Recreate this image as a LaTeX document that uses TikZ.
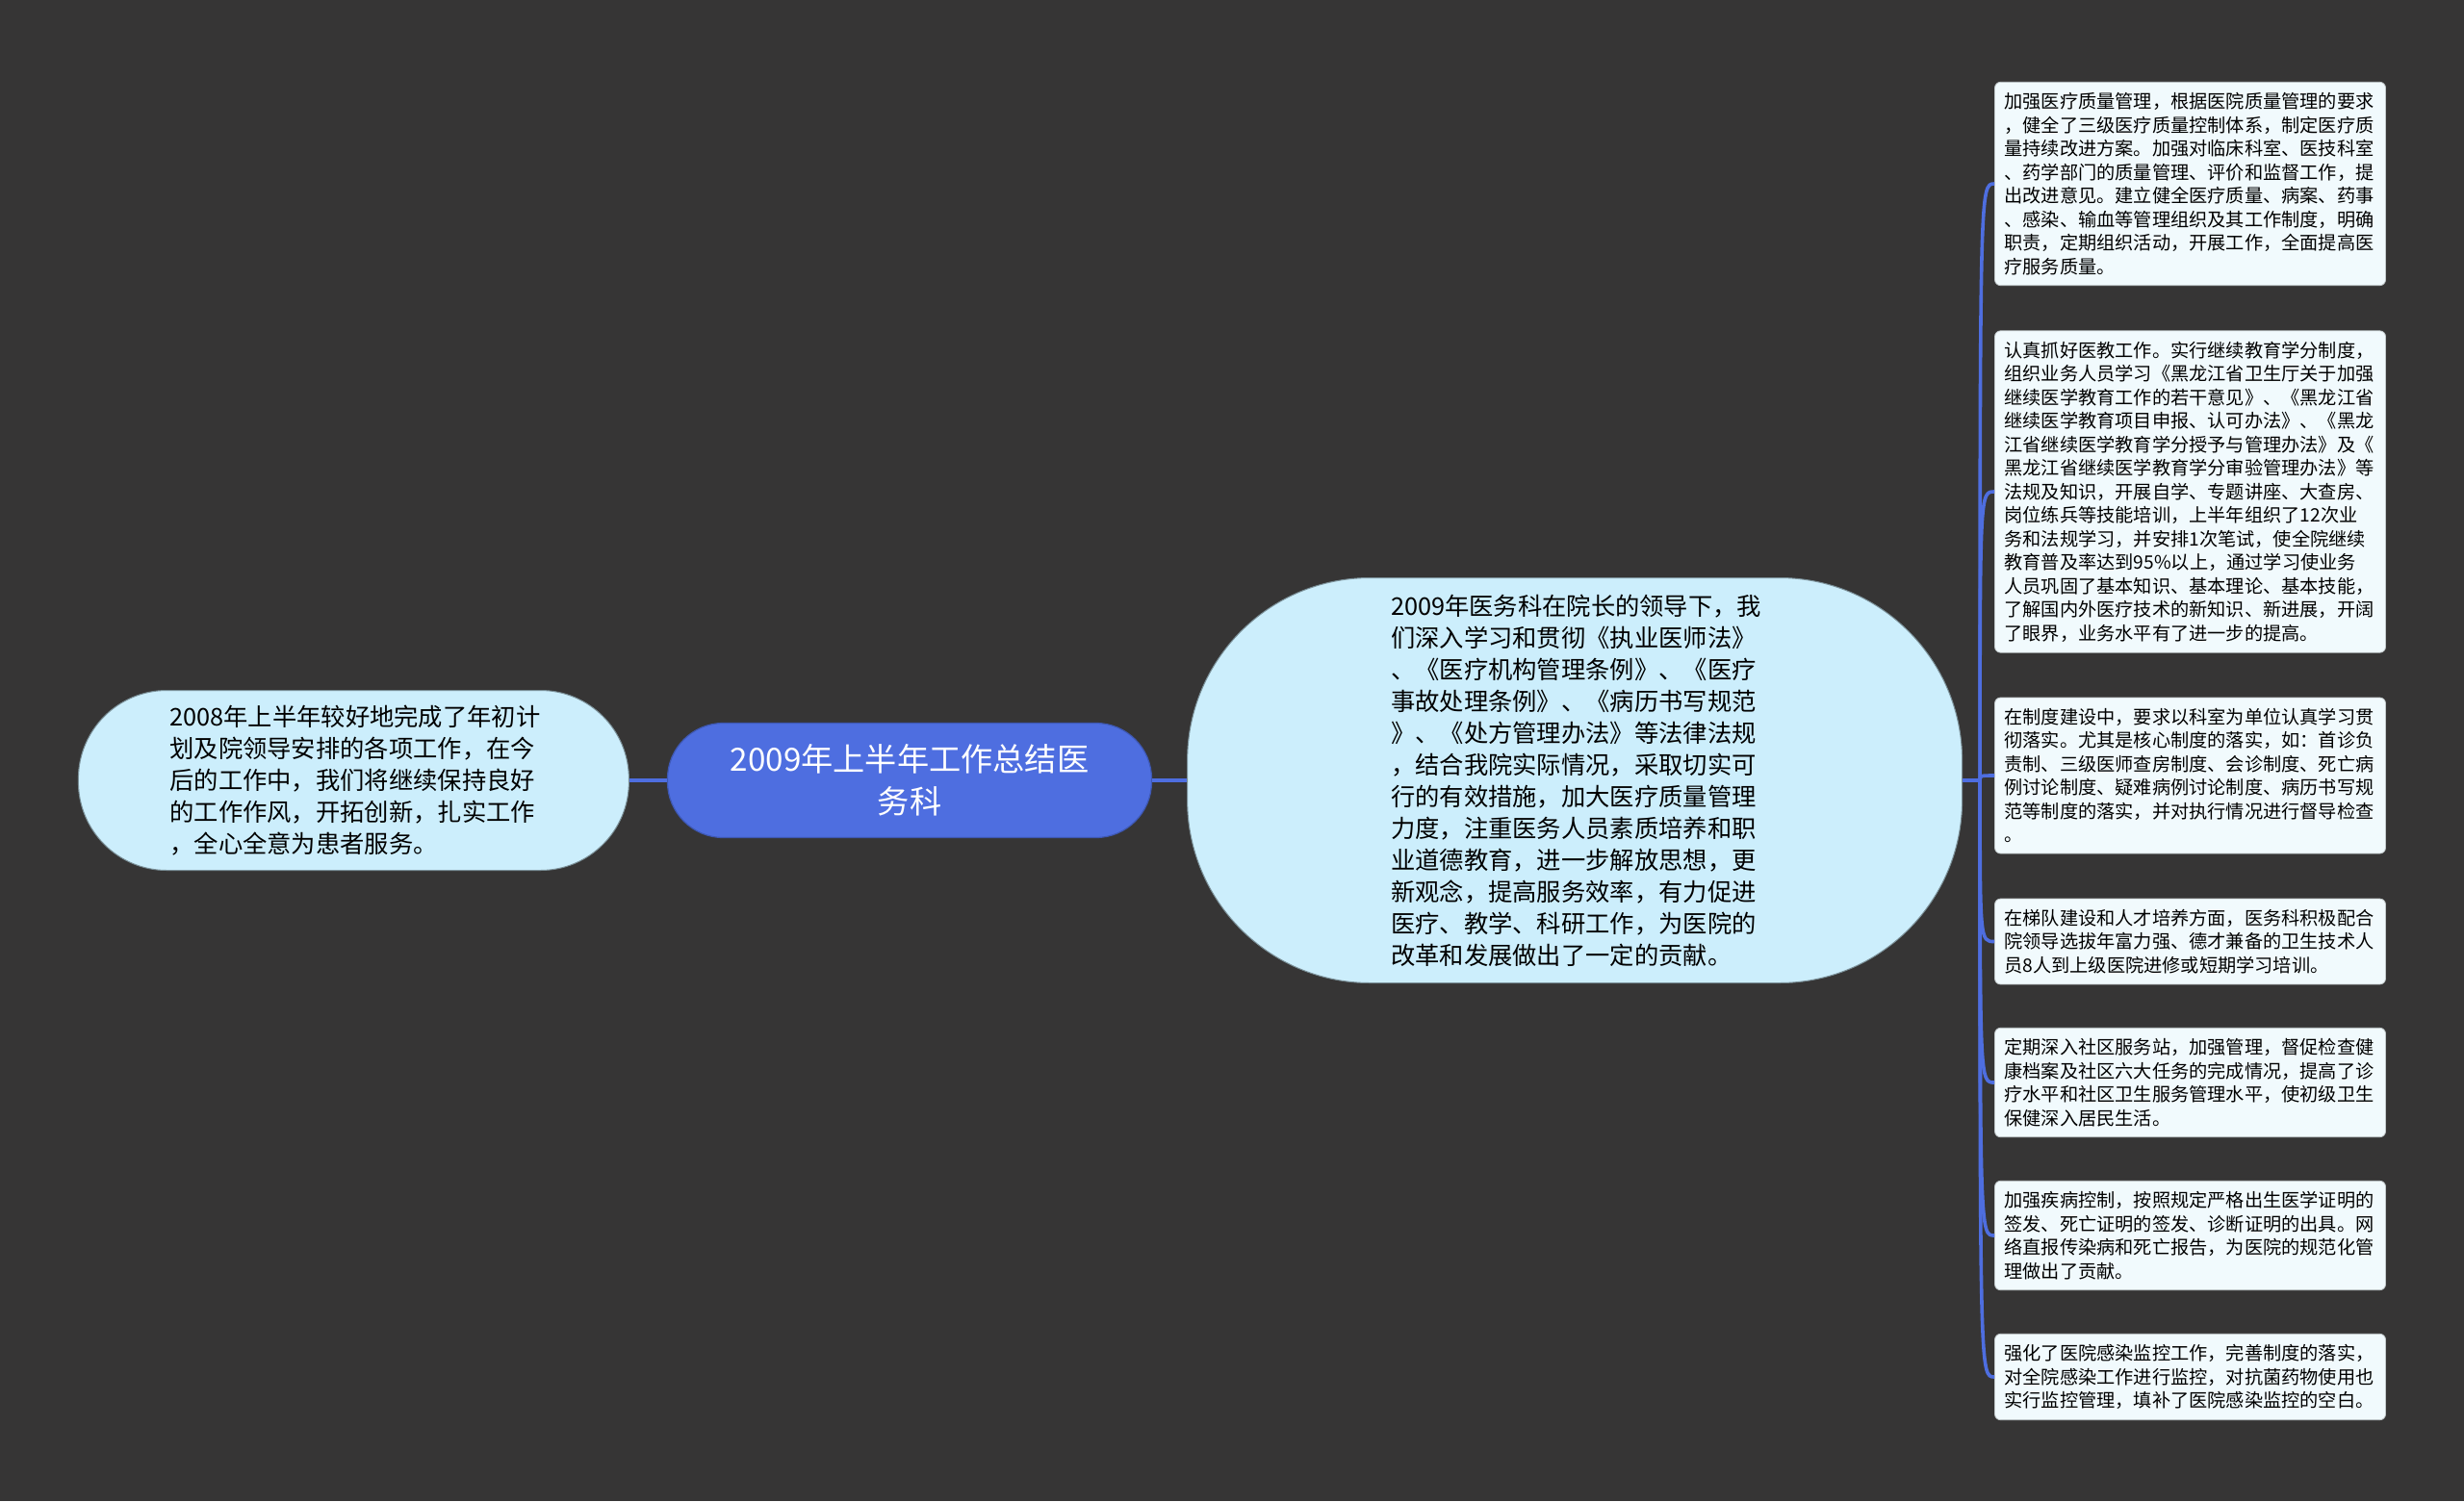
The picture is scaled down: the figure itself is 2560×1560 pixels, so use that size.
\documentclass[tikz,border=0pt]{standalone}
\usepackage{fontspec}
\setmainfont{Noto Sans CJK SC}
\usetikzlibrary{positioning}
\definecolor{bgdark}{RGB}{54,53,53}
\definecolor{rootblue}{RGB}{78,110,224}
\definecolor{topicblue}{RGB}{204,238,252}
\definecolor{leafwhite}{RGB}{241,250,253}

\begin{document}
\begin{tikzpicture}[x=0.5pt, y=-0.5pt,
  link/.style={draw=rootblue, line width=1.8pt},
  rootnode/.style={fill=rootblue, draw=rootblue!80!black, line width=0.6pt, text=white, align=center,
    rounded corners=29pt, minimum width=251.5pt, minimum height=59.5pt, font=\fontsize{16.6pt}{22pt}\selectfont},
  topic/.style={fill=topicblue, draw=topicblue!60!black, line width=0.5pt, align=left, text width=191pt,
    font=\fontsize{12.65pt}{16.5pt}\selectfont},
  leaf/.style={fill=leafwhite, draw=leafwhite!80!black, line width=0.4pt, rounded corners=3pt, align=left,
    text width=193pt, inner xsep=5pt, inner ysep=5.5pt, font=\fontsize{9.6pt}{12.25pt}\selectfont}]
\fill[bgdark] (0,0) rectangle (2560,1560);

\node[rootnode] (root) at (945,811) {2009年上半年工作总结医\\务科};
\node[topic, rounded corners=46pt, minimum width=286pt, minimum height=93.5pt, left=19.5pt of root] (prev)
  {2008年上半年较好地完成了年初计\\划及院领导安排的各项工作，在今\\后的工作中，我们将继续保持良好\\的工作作风，开拓创新，扎实工作\\，全心全意为患者服务。};
\node[topic, rounded corners=95pt, minimum width=402.5pt, minimum height=210.5pt, right=18pt of root] (summary)
  {2009年医务科在院长的领导下，我\\们深入学习和贯彻《执业医师法》\\、《医疗机构管理条例》、《医疗\\事故处理条例》、《病历书写规范\\》、《处方管理办法》等法律法规\\，结合我院实际情况，采取切实可\\行的有效措施，加大医疗质量管理\\力度，注重医务人员素质培养和职\\业道德教育，进一步解放思想，更\\新观念，提高服务效率，有力促进\\医疗、教学、科研工作，为医院的\\改革和发展做出了一定的贡献。};

\node[leaf] (item1) at (2275.5,191)
  {加强医疗质量管理，根据医院质量管理的要求\\，健全了三级医疗质量控制体系，制定医疗质\\量持续改进方案。加强对临床科室、医技科室\\、药学部门的质量管理、评价和监督工作，提\\出改进意见。建立健全医疗质量、病案、药事\\、感染、输血等管理组织及其工作制度，明确\\职责，定期组织活动，开展工作，全面提高医\\疗服务质量。};
\node[leaf] (item2) at (2275.5,511)
  {认真抓好医教工作。实行继续教育学分制度，\\组织业务人员学习《黑龙江省卫生厅关于加强\\继续医学教育工作的若干意见》、《黑龙江省\\继续医学教育项目申报、认可办法》、《黑龙\\江省继续医学教育学分授予与管理办法》及《\\黑龙江省继续医学教育学分审验管理办法》等\\法规及知识，开展自学、专题讲座、大查房、\\岗位练兵等技能培训，上半年组织了12次业\\务和法规学习，并安排1次笔试，使全院继续\\教育普及率达到95\%以上，通过学习使业务\\人员巩固了基本知识、基本理论、基本技能，\\了解国内外医疗技术的新知识、新进展，开阔\\了眼界，业务水平有了进一步的提高。};
\node[leaf] (item3) at (2275.5,806)
  {在制度建设中，要求以科室为单位认真学习贯\\彻落实。尤其是核心制度的落实，如：首诊负\\责制、三级医师查房制度、会诊制度、死亡病\\例讨论制度、疑难病例讨论制度、病历书写规\\范等制度的落实，并对执行情况进行督导检查\\。};
\node[leaf] (item4) at (2275.5,978.5)
  {在梯队建设和人才培养方面，医务科积极配合\\院领导选拔年富力强、德才兼备的卫生技术人\\员8人到上级医院进修或短期学习培训。};
\node[leaf] (item5) at (2275.5,1125)
  {定期深入社区服务站，加强管理，督促检查健\\康档案及社区六大任务的完成情况，提高了诊\\疗水平和社区卫生服务管理水平，使初级卫生\\保健深入居民生活。};
\node[leaf] (item6) at (2275.5,1284)
  {加强疾病控制，按照规定严格出生医学证明的\\签发、死亡证明的签发、诊断证明的出具。网\\络直报传染病和死亡报告，为医院的规范化管\\理做出了贡献。};
\node[leaf] (item7) at (2275.5,1431)
  {强化了医院感染监控工作，完善制度的落实，\\对全院感染工作进行监控，对抗菌药物使用也\\实行监控管理，填补了医院感染监控的空白。};

\coordinate[right=9pt of summary.east] (j);
\draw[link] (prev.east) -- (root.west);
\draw[link] (root.east) -- (summary.west);
\draw[link] (summary.east) -- (j);
\foreach \i in {1,...,7}
  \draw[link] (j) .. controls (j |- item\i) .. (item\i.west);
\end{tikzpicture}
\end{document}
